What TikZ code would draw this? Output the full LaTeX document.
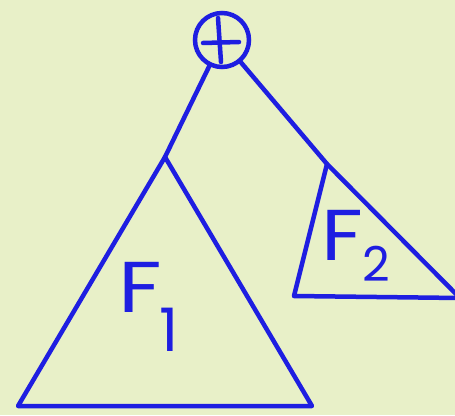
\documentclass[tikz,border=0pt]{standalone}
\usepackage{fontspec}
\setsansfont{Poppins}
\definecolor{bg}{RGB}{232,240,200}
\definecolor{ink}{RGB}{30,30,225}
\begin{document}
\begin{tikzpicture}[x=1pt,y=-1pt,
  line/.style={draw=ink,line width=4.5pt,line join=round,line cap=round},
  lbl/.style={text=ink,font=\sffamily\fontsize{72}{72}\selectfont,inner sep=0pt}]
\fill[bg] (0,0) rectangle (455,415);
\useasboundingbox (0,0) rectangle (455,415);
\node[circle,draw=ink,line width=4.5pt,minimum size=54pt,inner sep=0pt] (plus) at (222,40) {};
\coordinate (a1) at (165,157);
\coordinate (l1) at (18,406);
\coordinate (r1) at (312,406);
\coordinate (a2) at (327,164);
\coordinate (l2) at (294,296);
\coordinate (r2) at (460,298);
\draw[line] (218,18) coordinate (pt) -- (221,62) coordinate (pb);
\draw[line] (203,43) coordinate (ph) -- (239,42) coordinate (pr);
\draw[line] (plus) -- (a1);
\draw[line] (plus) -- (a2) -- (r2);
\draw[line] (a1) -- (l1) -- (r1) -- cycle;
\draw[line] (a2) -- (l2) -- (r2);
\node[lbl,anchor=north west] (f1) at (118,262) {\scalebox{1.2}[1]{F}\kern-2pt\raisebox{-0.55em}{\fontsize{60}{60}\selectfont 1}};
\node[lbl,anchor=north west] (f2) at (321,210) {\scalebox{1.15}[1]{F}\raisebox{-0.3em}{\fontsize{48}{48}\selectfont 2}};
\end{tikzpicture}
\end{document}
